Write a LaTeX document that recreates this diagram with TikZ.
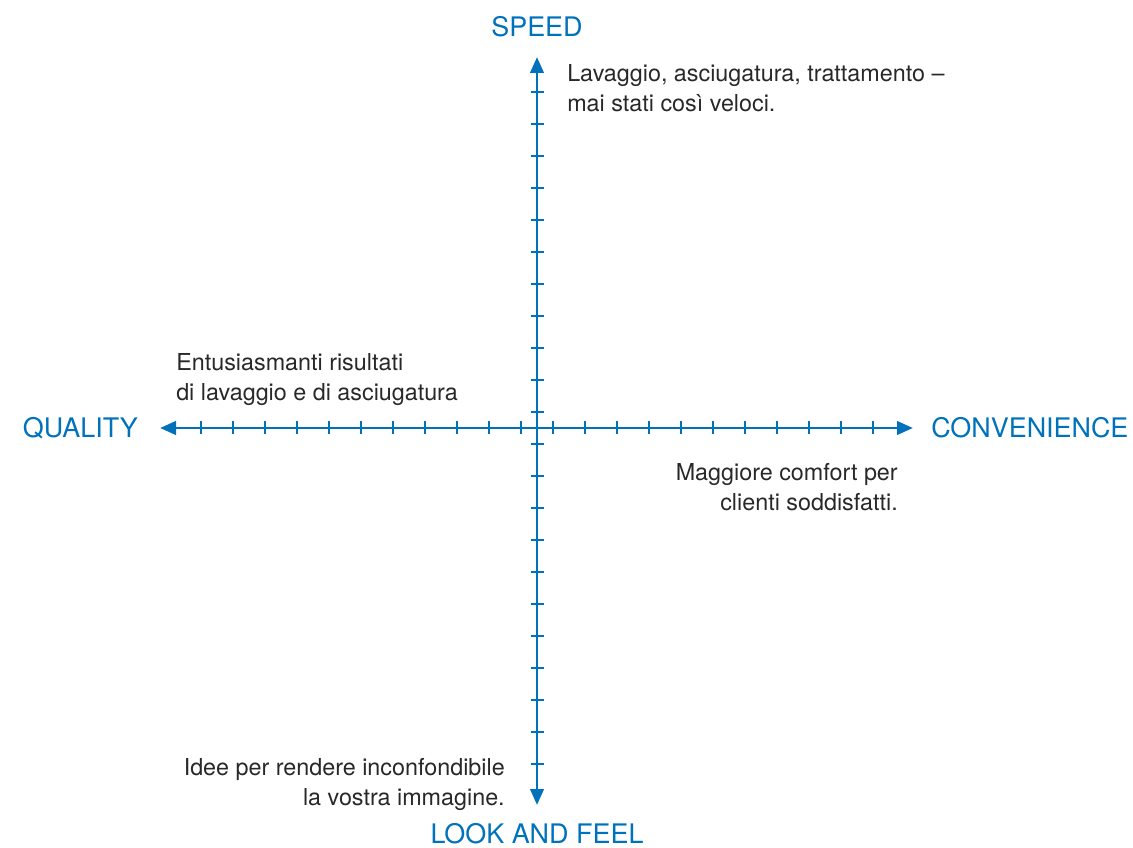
\documentclass[tikz,border=0pt]{standalone}
\usepackage{fontspec}
\setmainfont{TeX Gyre Heros}
\usepackage{tikz}
\usetikzlibrary{arrows.meta,positioning}
\definecolor{axisblue}{RGB}{0,114,188}
\definecolor{notegray}{RGB}{40,40,40}

\begin{document}
\begin{tikzpicture}[
  x=0.75pt,y=-0.75pt,
  axis/.style={{Triangle[length=12pt,width=10pt]}-{Triangle[length=12pt,width=10pt]},
    line width=2.2pt,axisblue},
  tick/.style={line width=1.5pt,axisblue},
  axlabel/.style={inner sep=0pt,text=axisblue,font=\fontsize{20.2}{24}\selectfont},
  note/.style={inner sep=0pt,text=notegray,font=\fontsize{17.5}{22.5}\selectfont},
]
  \useasboundingbox (0,0) rectangle (1133,848);

  % ends of the two axes
  \coordinate (o) at (537,428);
  \coordinate (top) at (537,57);
  \coordinate (bottom) at (537,805);
  \coordinate (left) at (160,428);
  \coordinate (right) at (913,428);

  \draw[axis] (left) -- (right);
  \draw[axis] (bottom) -- (top);

  % tick marks, 11 per half axis
  \foreach \d in {16,48,...,336} {
    \draw[tick] (537+\d,421.5) -- (537+\d,434.5);
    \draw[tick] (537-\d,421.5) -- (537-\d,434.5);
    \draw[tick] (530.5,428+\d) -- (543.5,428+\d);
    \draw[tick] (530.5,428-\d) -- (543.5,428-\d);
  }

  \node[axlabel,above=15pt of top] (speed) {SPEED};
  \node[axlabel,below=13.5pt of bottom] (look) {LOOK AND FEEL};
  \node[axlabel,left=16.5pt of left] (quality) {QUALITY};
  \node[axlabel,right=13.5pt of right] (convenience) {CONVENIENCE};

  \node[note,anchor=north west,align=left] (speedtxt) at (567,64)
    {Lavaggio, asciugatura, trattamento --\\mai stati così veloci.};
  \node[note,anchor=north west,align=left] (qualtxt) at (176,353)
    {Entusiasmanti risultati\\di lavaggio e di asciugatura};
  \node[note,anchor=north east,align=right] (convtxt) at (898,463)
    {Maggiore comfort per\\clienti soddisfatti.};
  \node[note,anchor=north east,align=right] (looktxt) at (505,758)
    {Idee per rendere inconfondibile\\la vostra immagine.};
\end{tikzpicture}
\end{document}
